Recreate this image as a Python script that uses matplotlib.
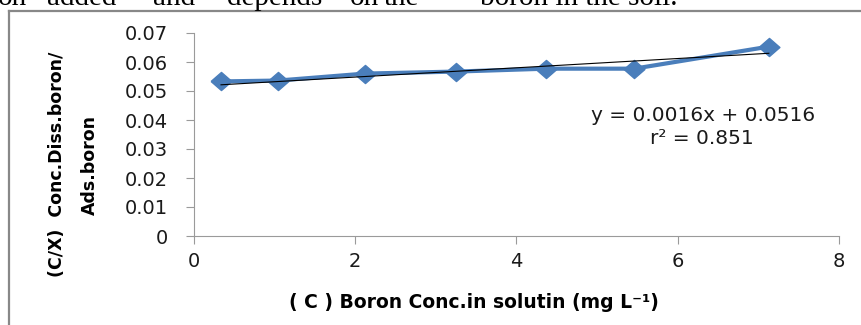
import numpy as np
import matplotlib.pyplot as plt
from matplotlib.lines import Line2D

# Dados
boron_conc = [0.335, 1.04, 2.12, 3.25, 4.37, 5.46, 7.13]       # C (mg L-1)
c_over_x = [0.0533, 0.0536, 0.0560, 0.0567, 0.0577, 0.0577, 0.0653]  # C/X
slope, intercept = 0.0016, 0.0516
r2 = 0.851
x_ticks = [0, 2, 4, 6, 8]
y_ticks = [0, 0.01, 0.02, 0.03, 0.04, 0.05, 0.06, 0.07]
y_tick_labels = ['0', '0.01', '0.02', '0.03', '0.04', '0.05', '0.06', '0.07']

top_words = ['on', 'added', 'and', 'depends', 'on', 'the', 'boron in the soil.']
top_word_x = [-2, 47, 153, 227, 350, 384, 480]

blue = '#4A7EBB'
axis_gray = '#9A9A9A'

fig = plt.figure(figsize=(8.62, 3.25), dpi=100)
ax = fig.add_axes([194 / 862, 1 - 236 / 325, (839 - 194) / 862, (236 - 33) / 325])

# Série e linha de tendência
diamond = [(-1.15, 0), (0, 1), (1.15, 0), (0, -1), (-1.15, 0)]
ax.plot(boron_conc, c_over_x, color=blue, lw=3, marker=diamond,
        markersize=15, markerfacecolor=blue, markeredgecolor=blue, zorder=2)
xt = np.array([boron_conc[0], boron_conc[-1]])
ax.plot(xt, slope * xt + intercept, color='black', lw=0.8, zorder=3)

ax.set_xlim(0, 8)
ax.set_ylim(0, 0.07)
ax.set_xticks(x_ticks)
ax.set_yticks(y_ticks)
ax.set_yticklabels(y_tick_labels)
ax.tick_params(axis='both', direction='out', length=5.5, width=0.8,
               color=axis_gray, labelsize=14, labelcolor='#1a1a1a')
ax.tick_params(axis='x', pad=6)
ax.tick_params(axis='y', pad=13)
for s in ['top', 'right']:
    ax.spines[s].set_visible(False)
for s in ['left', 'bottom']:
    ax.spines[s].set_color(axis_gray)
    ax.spines[s].set_linewidth(0.8)

# Equação
fig.text(703 / 862, 1 - 115 / 325, f'y = {slope}x + {intercept}',
         ha='center', va='center', fontsize=14.5, color='#1a1a1a')
fig.text(702 / 862, 1 - 138 / 325, f'r² = {r2}',
         ha='center', va='center', fontsize=14.5, color='#1a1a1a')

# Rótulos dos eixos
fig.text(474 / 862, 1 - 302 / 325, '( C ) Boron Conc.in solutin (mg L⁻¹)',
         ha='center', va='center', fontsize=13.5, fontweight='bold')
fig.text(57 / 862, 1 - 164 / 325, '(C/X)  Conc.Diss.boron/', rotation=90,
         ha='center', va='center', fontsize=12.5, fontweight='bold')
fig.text(90 / 862, 1 - 165 / 325, 'Ads.boron', rotation=90,
         ha='center', va='center', fontsize=12.5, fontweight='bold')

# Moldura do gráfico
fig.add_artist(Line2D([9 / 862, 9 / 862], [0, 1 - 10.5 / 325], color='#888888', lw=1.6))
fig.add_artist(Line2D([9 / 862, 1], [1 - 10.5 / 325, 1 - 10.5 / 325], color='#888888', lw=1.6))

# Texto cortado no topo
for w, px in zip(top_words, top_word_x):
    fig.text(px / 862, 1 - 5 / 325, w, ha='left', va='baseline',
             fontsize=21, family='Liberation Serif', color='black')

fig.savefig('out.png', dpi=100)
